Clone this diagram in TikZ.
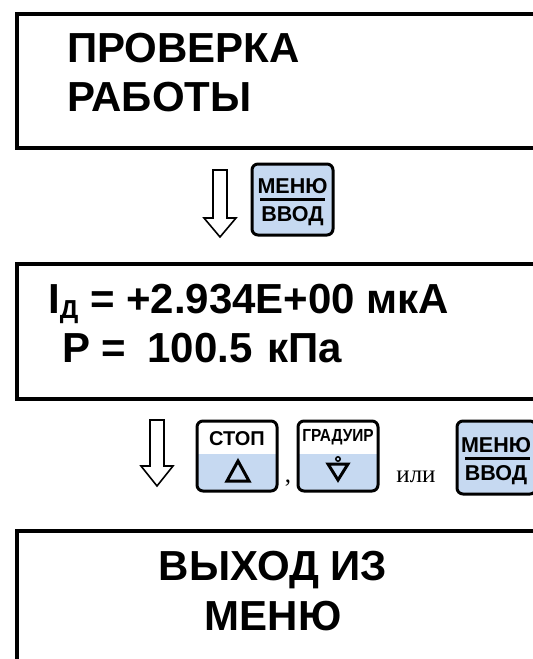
\documentclass[tikz,border=0pt]{standalone}
\usepackage{fontspec}
\setmainfont{Liberation Sans}
\newfontfamily\serifrm{Liberation Serif}
\definecolor{keyblue}{HTML}{C6D9F1}
\begin{document}
\begin{tikzpicture}[x=1pt,y=-1pt,
  screen/.style={draw=black,line width=4pt,rectangle,inner sep=0pt,anchor=north west},
  bigtext/.style={font=\fontsize{42}{42}\selectfont\bfseries,inner sep=0pt},
  keytext/.style={font=\fontsize{21.5}{21.5}\selectfont\bfseries,inner sep=0pt,anchor=base},
  smalltext/.style={font=\fontsize{20}{20}\selectfont\bfseries,inner sep=0pt,anchor=base},
  serif/.style={font=\fontsize{25}{25}\selectfont\serifrm,inner sep=0pt,anchor=base},
  keyframe/.style={draw=black,line width=3pt,rounded corners=6pt},
  hollowarrow/.style={draw=black,line width=1.6pt,fill=white,line join=miter}]
\useasboundingbox (0,0) rectangle (533,659);
\clip (0,0) rectangle (533,659);
\fill[white] (0,0) rectangle (533,659);

% screens
\node[screen,minimum width=560pt,minimum height=134.5pt] (s1) at (15,11.5) {};
\node[screen,minimum width=560pt,minimum height=135pt] (s2) at (15,262) {};
\node[screen,minimum width=560pt,minimum height=160pt] (s3) at (15,529) {};

\node[bigtext,anchor=base west] (t1a) at (67,62) {ПРОВЕРКА};
\node[bigtext,anchor=base west] (t1b) at (67,111) {РАБОТЫ};

\node[bigtext,anchor=base west] (t2a) at (48,313) {I\raisebox{-5pt}{\fontsize{26}{26}\selectfont Д} = +2.934E+00 мкА};
\node[bigtext,anchor=base west] (t2b) at (62,362) {P =\hspace{21pt}100.5\hspace{15pt}кПа};

\node[bigtext,anchor=base] (t3a) at (273,580) {ВЫХОД ИЗ};
\node[bigtext,anchor=base] (t3b) at (273,630) {МЕНЮ};

% arrow 1
\draw[hollowarrow] (213,170) -- (227,170) -- (227,218) -- (236,218) -- (220,237) -- (204,218) -- (213,218) -- cycle;
% key 1
\filldraw[keyframe,fill=keyblue] (252,164) rectangle (333,235);
\node[keytext] (k1a) at (292.5,193) {МЕНЮ};
\node[keytext] (k1b) at (292.5,221) {ВВОД};
\draw[line width=3pt] (260,199) -- (325,199);

% arrow 2
\draw[hollowarrow] (150,420) -- (164,420) -- (164,466) -- (173,466) -- (157,486) -- (141,466) -- (150,466) -- cycle;

% STOP key
\begin{scope}
\clip[rounded corners=6pt] (197,421) rectangle (277,491);
\fill[white] (197,421) rectangle (277,454);
\fill[keyblue] (197,454) rectangle (277,491);
\end{scope}
\draw[keyframe] (197,421) rectangle (277,491);
\node[smalltext] (k2a) at (237,445) {СТОП};
\draw[line width=3pt,line join=miter] (238,461) -- (249,481) -- (227,481) -- cycle;

\node[serif] (comma) at (288,482) {,};

% GRADUIR key
\begin{scope}
\clip[rounded corners=6pt] (298,421) rectangle (378,491);
\fill[white] (298,421) rectangle (378,454);
\fill[keyblue] (298,454) rectangle (378,491);
\end{scope}
\draw[keyframe] (298,421) rectangle (378,491);
\node[smalltext,font=\fontsize{17.5}{17.5}\selectfont\bfseries,xscale=0.88] (k3a) at (338,441) {ГРАДУИР};
\draw[line width=3pt,line join=miter] (328,464) -- (348,464) -- (338,480) -- cycle;
\draw[line width=1.5pt] (338,459) circle (2.2pt);

\node[serif] (ili) at (416,482) {или};

% key 3
\filldraw[keyframe,fill=keyblue] (457,421) rectangle (536,494);
\node[keytext] (k4a) at (496,452) {МЕНЮ};
\node[keytext] (k4b) at (496,480) {ВВОД};
\draw[line width=3pt] (465,458) -- (530,458);
\end{tikzpicture}
\end{document}
